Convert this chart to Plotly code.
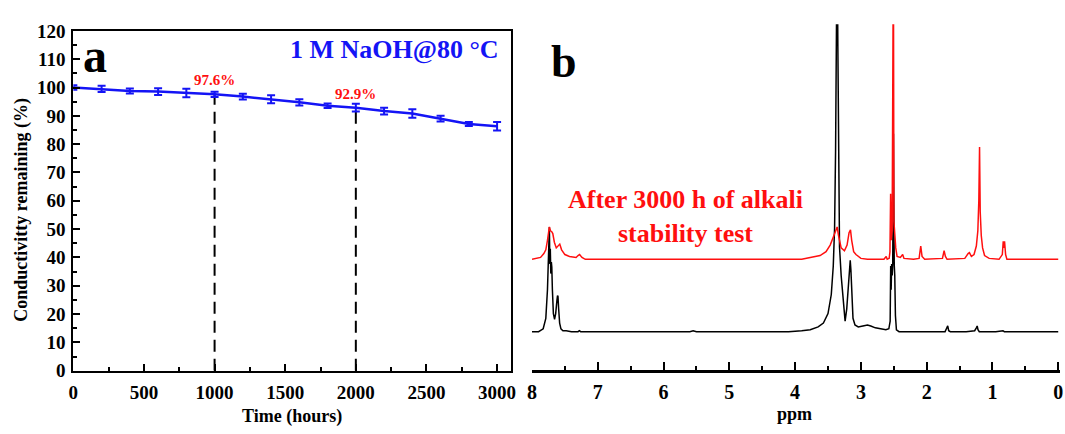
import plotly.graph_objects as go

# ---- Panel a: conductivity retention in 1 M NaOH at 80 °C ----
time_h = [0, 200, 400, 600, 800, 1000, 1200, 1400, 1600, 1800, 2000, 2200, 2400, 2600, 2800, 3000]
retention = [100.0, 99.5, 98.8, 98.6, 98.1, 97.6, 96.8, 95.9, 94.8, 93.6, 92.9, 91.7, 90.8, 89.0, 87.1, 86.3]
retention_err = [0.8, 1.1, 0.9, 1.2, 1.5, 0.9, 1.0, 1.4, 1.1, 0.8, 1.4, 1.2, 1.5, 1.0, 0.7, 1.5]
marked_times = [1000, 2000]

# ---- Panel b: 1H NMR spectra (ppm, intensity above own baseline) ----
pristine_ppm = [8.00, 7.90, 7.83, 7.79, 7.765, 7.75, 7.742, 7.736, 7.729, 7.722, 7.714, 7.706, 7.699, 7.69,
                7.675, 7.657, 7.64, 7.622, 7.612, 7.605, 7.595, 7.58, 7.56, 7.53, 7.48, 7.40, 7.30, 7.28,
                7.26, 7.10, 6.80, 6.40, 6.00, 5.60, 5.55, 5.50, 5.00, 4.50, 4.10, 3.90, 3.77, 3.65, 3.57,
                3.50, 3.45, 3.42, 3.40, 3.385, 3.372, 3.361, 3.35, 3.338, 3.325, 3.30, 3.27, 3.24, 3.215,
                3.19, 3.172, 3.162, 3.152, 3.14, 3.12, 3.09, 3.04, 2.97, 2.90, 2.85, 2.78, 2.70, 2.62,
                2.575, 2.555, 2.547, 2.54, 2.532, 2.524, 2.516, 2.510, 2.505, 2.50, 2.493, 2.485, 2.475,
                2.46, 2.42, 2.20, 1.90, 1.72, 1.70, 1.68, 1.665, 1.64, 1.40, 1.27, 1.245, 1.232, 1.22,
                1.20, 0.95, 0.86, 0.84, 0.82, 0.50, 0.00]
pristine_int = [1, 1, 4, 15, 45, 95, 104, 111, 72, 88, 62, 74, 69, 45,
                20, 14, 20, 33, 39, 38, 25, 10, 4, 2, 2, 1, 1, 2,
                1, 1, 1, 1, 1, 1, 2, 1, 1, 1, 1, 2, 3, 6, 10,
                20, 40, 70, 110, 190, 330, 420, 300, 140, 90, 60, 32, 12, 25,
                52, 74, 76, 66, 38, 15, 8, 6, 7, 8, 7, 5, 4, 3,
                4, 12, 70, 45, 72, 60, 72, 150, 209, 140, 71, 60, 18,
                3, 1, 1, 1, 1, 4, 7, 2, 1, 1, 2, 5, 7, 3,
                1, 1, 2, 2, 1, 1, 1]

aged_ppm = [8.00, 7.95, 7.87, 7.82, 7.79, 7.765, 7.75, 7.736, 7.72, 7.70, 7.684, 7.66, 7.631, 7.60,
            7.578, 7.55, 7.50, 7.43, 7.33, 7.30, 7.277, 7.24, 7.19, 6.50, 5.50, 4.50, 3.90, 3.77,
            3.62, 3.53, 3.467, 3.41, 3.38, 3.361, 3.34, 3.30, 3.25, 3.21, 3.18, 3.158, 3.14, 3.11,
            3.075, 3.00, 2.90, 2.65, 2.615, 2.60, 2.57, 2.558, 2.548, 2.538, 2.525, 2.512, 2.506,
            2.498, 2.485, 2.47, 2.45, 2.40, 2.365, 2.345, 2.20, 2.115, 2.09, 2.07, 2.03, 1.76, 1.735,
            1.715, 1.69, 1.42, 1.37, 1.35, 1.32, 1.28, 1.245, 1.222, 1.207, 1.196, 1.186, 1.17, 1.15,
            1.12, 1.05, 0.90, 0.85, 0.836, 0.826, 0.816, 0.80, 0.78, 0.40, 0.00]
aged_int = [0, 1, 2, 6, 10, 20, 30, 34, 30, 29, 27, 18, 12, 15,
            16, 10, 5, 3, 2, 4, 5, 2, 0, 0, 0, 0, 0, 2,
            4, 8, 15, 25, 31, 34, 25, 12, 9, 15, 28, 31, 20, 8,
            5, 1, 0, 0, 3, 0, 1, 8, 69, 20, 30, 330, 330,
            40, 25, 12, 3, 2, 5, 1, 0, 1, 14, 3, 0, 1, 9,
            3, 0, 1, 6, 7, 3, 5, 14, 30, 62, 118, 50, 25, 12,
            4, 1, 0, 5, 19, 12, 19, 5, 0, 0, 0]
aged_offset = 77  # vertical stacking of the aged spectrum above the pristine one

ppm_ticks = [8, 7, 6, 5, 4, 3, 2, 1, 0]

# ---- styling ----
W, H = 1065, 434
SERIF = "Liberation Serif, Times New Roman, serif"
BLUE = "#1414F5"
RED = "#FF0F0F"


def px_x(x):
    return x / W


def px_y(y):
    return 1 - y / H


fig = go.Figure()

# dashed guide lines at the highlighted times
for t in marked_times:
    v = retention[time_h.index(t)]
    fig.add_trace(go.Scatter(
        x=[t, t], y=[0, v], mode="lines",
        line=dict(color="black", width=2, dash="12px,7px"),
        xaxis="x", yaxis="y", showlegend=False, hoverinfo="skip"))

fig.add_trace(go.Scatter(
    x=time_h, y=retention, mode="lines",
    line=dict(color=BLUE, width=2.5),
    error_y=dict(type="data", array=retention_err, color=BLUE, thickness=2, width=4),
    xaxis="x", yaxis="y", showlegend=False))

fig.add_trace(go.Scatter(
    x=pristine_ppm, y=pristine_int, mode="lines",
    line=dict(color="black", width=1.5),
    xaxis="x2", yaxis="y2", showlegend=False))

fig.add_trace(go.Scatter(
    x=aged_ppm, y=[v + aged_offset for v in aged_int], mode="lines",
    line=dict(color=RED, width=1.5),
    xaxis="x2", yaxis="y2", showlegend=False))

tickfont = dict(family=SERIF, size=19, color="black", weight="bold")


def label(x, y, text, size, color="black", angle=0):
    return dict(x=px_x(x), y=px_y(y), xref="paper", yref="paper", text=text,
                showarrow=False, xanchor="center", yanchor="middle", textangle=angle,
                font=dict(family=SERIF, size=size, color=color, weight="bold"))


annotations = []
for t in marked_times:
    v = retention[time_h.index(t)]
    annotations.append(dict(
        x=t, y=v + 5.0, xref="x", yref="y", text=f"{v}%", showarrow=False,
        xanchor="center", yanchor="middle",
        font=dict(family=SERIF, size=15, color=RED, weight="bold")))

annotations += [
    label(91, 48, "a", 48),
    label(393, 42, "1 M NaOH@80 °C", 26, BLUE),
    label(290, 427, "Time (hours)", 18),
    label(17, 210, "Conductivitty remaining (%)", 18, angle=-90),
    label(564, 54, "b", 46),
    label(687, 217, "After 3000 h of alkali<br>stability test", 26, RED),
    label(797, 425, "ppm", 18),
]

fig.update_layout(
    width=W, height=H,
    margin=dict(l=0, r=0, t=0, b=0),
    paper_bgcolor="white", plot_bgcolor="white",
    xaxis=dict(
        domain=[px_x(69), px_x(511)], range=[0, 3100],
        tickvals=[0, 500, 1000, 1500, 2000, 2500, 3000],
        ticks="inside", ticklen=7, tickwidth=2, tickcolor="black",
        minor=dict(tickvals=[250, 750, 1250, 1750, 2250, 2750], ticks="inside",
                   ticklen=4, tickwidth=2, tickcolor="black"),
        showline=True, linewidth=2, linecolor="black", mirror=True,
        showgrid=False, zeroline=False, tickfont=tickfont, ticklabelstandoff=4, anchor="y"),
    yaxis=dict(
        domain=[px_y(379), px_y(22)], range=[0, 120],
        tickvals=list(range(0, 121, 10)),
        ticks="inside", ticklen=7, tickwidth=2, tickcolor="black",
        minor=dict(tickvals=list(range(5, 120, 10)), ticks="inside",
                   ticklen=4, tickwidth=2, tickcolor="black"),
        showline=True, linewidth=2, linecolor="black", mirror=True,
        showgrid=False, zeroline=False, tickfont=tickfont, ticklabelstandoff=2, anchor="x"),
    xaxis2=dict(
        domain=[px_x(532), 1.0], range=[8, -0.027],
        tickvals=ppm_ticks,
        ticks="inside", ticklen=8, tickwidth=2, tickcolor="black",
        minor=dict(tickvals=[7.5, 6.5, 5.5, 4.5, 3.5, 2.5, 1.5, 0.5], ticks="inside",
                   ticklen=4, tickwidth=2, tickcolor="black"),
        showline=True, linewidth=2.5, linecolor="black",
        showgrid=False, zeroline=False, ticklabelstandoff=3,
        tickfont=dict(family=SERIF, size=20, color="black", weight="bold"), anchor="y2"),
    yaxis2=dict(
        domain=[px_y(378), px_y(15)], range=[-39, 324],
        visible=False, showgrid=False, zeroline=False, anchor="x2"),
    annotations=annotations,
)

fig.write_html("out.html")
